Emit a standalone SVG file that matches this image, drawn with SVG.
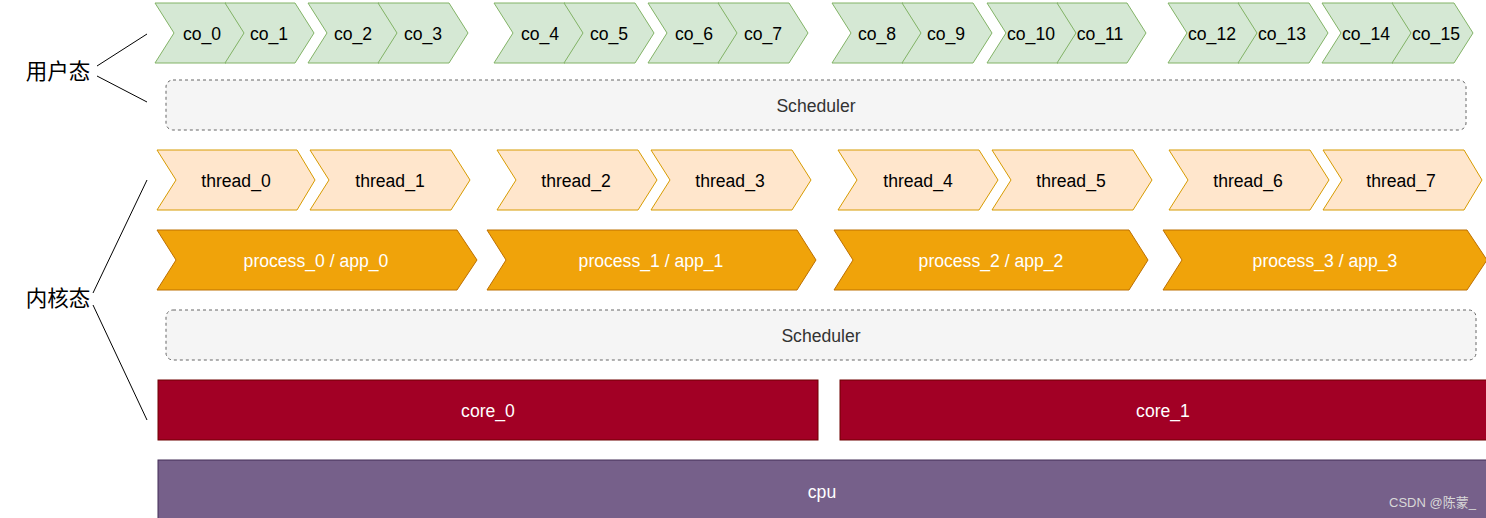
<svg xmlns="http://www.w3.org/2000/svg" width="1486" height="518" viewBox="0 0 1486 518">
<style>
  text { font-family: "Liberation Sans", Arial, sans-serif; font-size: 17.6px; text-anchor: middle; dominant-baseline: central; }
  .co { fill: #d5e8d4; stroke: #82b366; stroke-width: 1; }
  .th { fill: #ffe6cc; stroke: #d79b00; stroke-width: 1; }
  .pr { fill: #f0a30a; stroke: #bd7000; stroke-width: 1; }
  .sch { fill: #f5f5f5; stroke: #666666; stroke-width: 1; stroke-dasharray: 3 3; }
  .core { fill: #a20025; stroke: #6f0000; stroke-width: 1; }
  .cpu { fill: #76608a; stroke: #432d57; stroke-width: 1; }
  .dark { fill: #000000; }
  .light { fill: #ffffff; }
  .sct { fill: #333333; }
  .zh { font-family: "Liberation Sans", "Noto Sans CJK SC", sans-serif; font-size: 21.5px; fill: #000000; }
  .conn { stroke: #000000; stroke-width: 1; fill: none; }
  .wm { font-family: "Liberation Sans", "Noto Sans CJK SC", sans-serif; font-size: 13px; fill: #d8d8d8; text-anchor: start; }
</style>

<g id="labels">
  <text id="label-user" class="zh" x="58" y="72">用户态</text>
  <text id="label-kernel" class="zh" x="58" y="299">内核态</text>
</g>

<g id="connectors">
  <line class="conn" x1="97" y1="66" x2="147" y2="34"/>
  <line class="conn" x1="97" y1="76" x2="147" y2="102"/>
  <line class="conn" x1="93" y1="293" x2="147" y2="180"/>
  <line class="conn" x1="93" y1="305" x2="147" y2="420"/>
</g>

<!-- coroutines -->
<g id="co_0"><polygon class="co" points="155,3 226,3 245,33 226,63 155,63 174,33"/><text class="dark" x="202" y="34">co_0</text></g>
<g id="co_1"><polygon class="co" points="225,3 295,3 314,33 295,63 225,63 244,33"/><text class="dark" x="269" y="34">co_1</text></g>
<g id="co_2"><polygon class="co" points="308,3 379,3 398,33 379,63 308,63 327,33"/><text class="dark" x="353" y="34">co_2</text></g>
<g id="co_3"><polygon class="co" points="378,3 449,3 468,33 449,63 378,63 397,33"/><text class="dark" x="423" y="34">co_3</text></g>
<g id="co_4"><polygon class="co" points="494,3 565,3 584,33 565,63 494,63 513,33"/><text class="dark" x="540" y="34">co_4</text></g>
<g id="co_5"><polygon class="co" points="564,3 635,3 654,33 635,63 564,63 583,33"/><text class="dark" x="609" y="34">co_5</text></g>
<g id="co_6"><polygon class="co" points="648,3 719,3 738,33 719,63 648,63 667,33"/><text class="dark" x="694" y="34">co_6</text></g>
<g id="co_7"><polygon class="co" points="718,3 789,3 808,33 789,63 718,63 737,33"/><text class="dark" x="763" y="34">co_7</text></g>
<g id="co_8"><polygon class="co" points="832,3 903,3 922,33 903,63 832,63 851,33"/><text class="dark" x="877" y="34">co_8</text></g>
<g id="co_9"><polygon class="co" points="902,3 973,3 992,33 973,63 902,63 921,33"/><text class="dark" x="946" y="34">co_9</text></g>
<g id="co_10"><polygon class="co" points="987,3 1058,3 1077,33 1058,63 987,63 1006,33"/><text class="dark" x="1031" y="34">co_10</text></g>
<g id="co_11"><polygon class="co" points="1057,3 1127,3 1146,33 1127,63 1057,63 1076,33"/><text class="dark" x="1100" y="34">co_11</text></g>
<g id="co_12"><polygon class="co" points="1168,3 1239,3 1258,33 1239,63 1168,63 1187,33"/><text class="dark" x="1212" y="34">co_12</text></g>
<g id="co_13"><polygon class="co" points="1238,3 1309,3 1328,33 1309,63 1238,63 1257,33"/><text class="dark" x="1282" y="34">co_13</text></g>
<g id="co_14"><polygon class="co" points="1322,3 1393,3 1412,33 1393,63 1322,63 1341,33"/><text class="dark" x="1366" y="34">co_14</text></g>
<g id="co_15"><polygon class="co" points="1392,3 1454,3 1473,33 1454,63 1392,63 1411,33"/><text class="dark" x="1436" y="34">co_15</text></g>

<g id="scheduler_user"><rect class="sch" x="166" y="80" width="1300" height="50" rx="7" ry="7"/><text class="sct" x="816" y="106">Scheduler</text></g>

<!-- threads -->
<g id="thread_0"><polygon class="th" points="157,150 297,150 315,180 297,210 157,210 176,180"/><text class="dark" x="236" y="181">thread_0</text></g>
<g id="thread_1"><polygon class="th" points="310,150 451,150 470,180 451,210 310,210 329,180"/><text class="dark" x="390" y="181">thread_1</text></g>
<g id="thread_2"><polygon class="th" points="497,150 638,150 657,180 638,210 497,210 516,180"/><text class="dark" x="576" y="181">thread_2</text></g>
<g id="thread_3"><polygon class="th" points="651,150 792,150 811,180 792,210 651,210 670,180"/><text class="dark" x="730" y="181">thread_3</text></g>
<g id="thread_4"><polygon class="th" points="838,150 979,150 998,180 979,210 838,210 857,180"/><text class="dark" x="918" y="181">thread_4</text></g>
<g id="thread_5"><polygon class="th" points="992,150 1133,150 1152,180 1133,210 992,210 1011,180"/><text class="dark" x="1071" y="181">thread_5</text></g>
<g id="thread_6"><polygon class="th" points="1169,150 1310,150 1329,180 1310,210 1169,210 1188,180"/><text class="dark" x="1248" y="181">thread_6</text></g>
<g id="thread_7"><polygon class="th" points="1323,150 1464,150 1482,180 1464,210 1323,210 1342,180"/><text class="dark" x="1401" y="181">thread_7</text></g>

<!-- processes -->
<g id="process_0"><polygon class="pr" points="157,230 457,230 477,260 457,290 157,290 176,260"/><text class="light" x="316" y="261">process_0 / app_0</text></g>
<g id="process_1"><polygon class="pr" points="487,230 797,230 816,260 797,290 487,290 506,260"/><text class="light" x="651" y="261">process_1 / app_1</text></g>
<g id="process_2"><polygon class="pr" points="834,230 1129,230 1148,260 1129,290 834,290 853,260"/><text class="light" x="991" y="261">process_2 / app_2</text></g>
<g id="process_3"><polygon class="pr" points="1163,230 1467,230 1487,260 1467,290 1163,290 1182,260"/><text class="light" x="1325" y="261">process_3 / app_3</text></g>

<g id="scheduler_kernel"><rect class="sch" x="166" y="310" width="1310" height="50" rx="7" ry="7"/><text class="sct" x="821" y="336">Scheduler</text></g>

<g id="core_0"><rect class="core" x="158" y="380" width="660" height="60"/><text class="light" x="488" y="411">core_0</text></g>
<g id="core_1"><rect class="core" x="840" y="380" width="650" height="60"/><text class="light" x="1163" y="411">core_1</text></g>

<g id="cpu"><rect class="cpu" x="158" y="460" width="1332" height="62"/><text class="light" x="822" y="492">cpu</text></g>

<text class="wm" x="1389" y="502">CSDN @陈蒙_</text>
</svg>
